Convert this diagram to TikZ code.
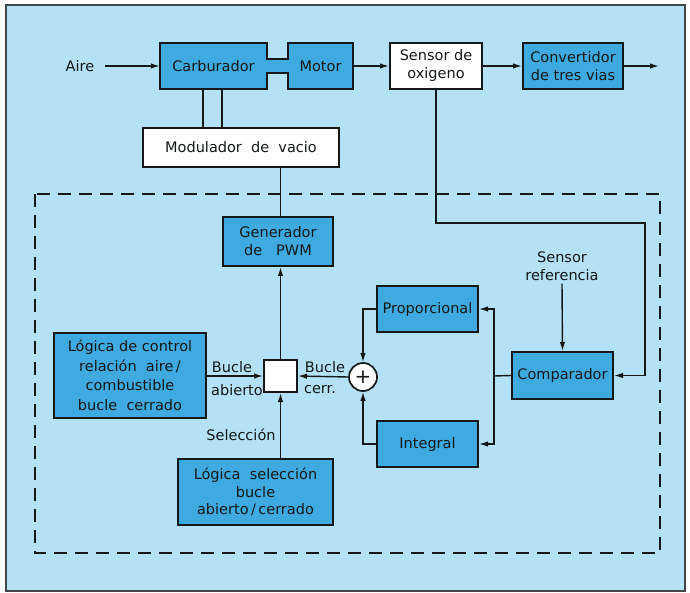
\documentclass[tikz,border=0pt]{standalone}
\usepackage{fontspec}
\setmainfont{DejaVu Sans}
\usetikzlibrary{arrows.meta}
\definecolor{bgblue}{RGB}{180,225,245}
\definecolor{boxblue}{RGB}{62,170,224}
\definecolor{ink}{RGB}{20,24,24}
\begin{document}
\begin{tikzpicture}[x=1pt,y=-1pt,
  every node/.style={font=\fontsize{14.5}{18}\selectfont, text=ink},
  box/.style={draw=ink, line width=2pt, fill=boxblue, align=center, inner sep=0pt},
  wbox/.style={box, fill=white},
  txt/.style={align=center, inner sep=0pt},
  conn/.style={line width=1.4pt, draw=ink},
  arr/.style={conn, -{Latex[length=9pt,width=5.5pt]}}]
% background
\fill[white] (0,0) rectangle (690,593);
\useasboundingbox (0,0) rectangle (690,593);
\filldraw[fill=bgblue, draw=ink!80, line width=1.4pt] (6,5) rectangle (685,591);
% dashed frame
\draw[ink, line width=1.5pt, dash pattern=on 13pt off 8pt] (35,194) rectangle (660,553);

% carburador + motor shape
\filldraw[fill=boxblue, draw=ink, line width=2pt]
  (160,43) -- (267,43) -- (267,59) -- (288,59) -- (288,43) -- (353,43) -- (353,89)
  -- (288,89) -- (288,73) -- (267,73) -- (267,89) -- (160,89) -- cycle;
\node[txt, minimum width=107pt, minimum height=46pt] (carb) at (213.5,66) {Carburador};
\node[txt, minimum width=65pt, minimum height=46pt] (motor) at (320.5,66) {Motor};
\node[txt] (aire) at (80,66) {Aire};

\node[wbox, minimum width=92pt, minimum height=46pt] (sens) at (436,66) {Sensor de\\oxigeno};
\node[box, minimum width=100pt, minimum height=46pt] (conv) at (573,66) {Convertidor\\de tres vias};
\coordinate (out) at (659,66);

\node[wbox, minimum width=196pt, minimum height=39pt] (mod) at (241,147.5) {Modulador\ \ de\ \ vacio};

\node[box, minimum width=110pt, minimum height=49pt] (gen) at (278,241.5) {Generador\\de\ \ \ PWM};

\node[box, minimum width=152pt, minimum height=85pt, font=\fontsize{14.5}{19.5}\selectfont] (lctrl) at (130,375.5)
  {Lógica\ de\ control\\relación\ \ aire\,/\\combustible\\bucle\ \ cerrado};

\node[wbox, minimum width=33pt, minimum height=32pt] (sw) at (280.5,376) {};

\node[circle, draw=ink, fill=white, line width=1.7pt, minimum size=28pt, inner sep=0pt] (sum) at (363,377) {\fontsize{20}{20}\selectfont +};

\node[box, minimum width=101pt, minimum height=46pt] (prop) at (427.5,309) {Proporcional};
\node[box, minimum width=101pt, minimum height=46pt] (int) at (427.5,444) {Integral};
\node[box, minimum width=101pt, minimum height=47pt] (comp) at (562.5,375.5) {Comparador};

\node[txt] (sref) at (562,266) {Sensor\\referencia};
\node[txt] (sel) at (241,435) {Selección};

\node[box, minimum width=155pt, minimum height=66pt, font=\fontsize{14.5}{17.5}\selectfont] (lsel) at (255.5,492)
  {Lógica\ \ selección\\bucle\\abierto\,/\,cerrado};

\node[txt] (ba) at (232,367) {Bucle};
\node[txt] (bb) at (237,390) {abierto};
\node[txt] (bc) at (325,367) {Bucle};
\node[txt] (bd) at (320,390) {cerr.};

\coordinate (j) at (494,376);
\coordinate (fb) at (645,223);
\coordinate (c1) at (203,89);
\coordinate (c2) at (222,89);
\coordinate (ain) at (105,66);

% connectors
\draw[arr] (ain) -- (carb.west);
\draw[arr] (motor.east) -- (sens.west);
\draw[arr] (sens.east) -- (conv.west);
\draw[arr] (conv.east) -- (out);
\draw[conn] (c1) -- (c1 |- mod.north);
\draw[conn] (c2) -- (c2 |- mod.north);
\draw[conn] (sw.center |- mod.south) -- (sw.center |- gen.north);
\draw[arr] (sw.north) -- (gen.south -| sw.north);
\draw[arr] (lctrl.east |- sw.west) -- (sw.west);
\draw[arr] (sum.west) -- (sw.east);
\draw[arr] (lsel.north -| sw.south) -- (sw.south);
\draw[arr] (prop.west) -| (sum.north);
\draw[arr] (int.west) -| (sum.south);
\draw[conn] (comp.west) -- (j);
\draw[arr] (j) |- (prop.east);
\draw[arr] (j) |- (int.east);
\draw[arr] (sens.south) |- (fb) |- (comp.east);
\draw[arr] (sref.south) ++(0,3) -- (comp.north);
\end{tikzpicture}
\end{document}
